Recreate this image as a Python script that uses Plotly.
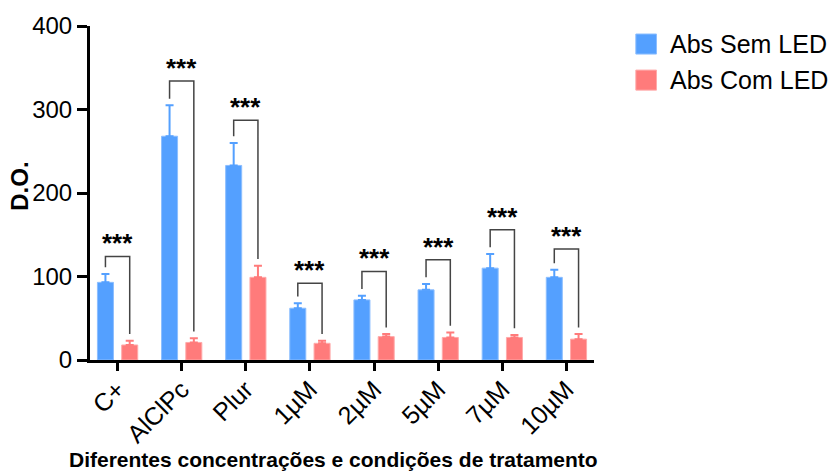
import plotly.graph_objects as go

# Treatment groups and absorbance readings (mean and upper SD)
categories = ["C+", "AlClPc", "Plur", "1µM", "2µM", "5µM", "7µM", "10µM"]
series_names = ["Abs Sem LED", "Abs Com LED"]
sem_led = [93, 268, 233, 62, 72, 84, 110, 99]
sem_led_err = [10, 37, 27, 6, 5, 7, 17, 9]
com_led = [18, 21, 99, 20, 28, 27, 27, 25]
com_led_err = [5, 5, 14, 3, 3, 6, 3, 6]

# Significance brackets: height of the horizontal bar and label for each group
bracket_top = [124, 334, 287, 92, 106, 120, 156, 133]
bracket_label = ["***"] * len(categories)

BLUE = "rgb(84,160,255)"
BLUE_EDGE = "rgb(140,190,255)"
RED = "rgb(255,123,123)"
RED_EDGE = "rgb(255,170,170)"
FONT = "Arial, Liberation Sans, sans-serif"

BARGAP = 0.243
BARGROUPGAP = 0.34

fig = go.Figure()
fig.add_trace(go.Bar(
    x=categories, y=sem_led, name=series_names[0],
    marker=dict(color=BLUE, line=dict(color=BLUE_EDGE, width=1)),
    error_y=dict(type="data", array=sem_led_err, arrayminus=[0] * len(sem_led),
                 symmetric=False, color=BLUE, thickness=2, width=4),
    showlegend=False,
))
fig.add_trace(go.Bar(
    x=categories, y=com_led, name=series_names[1],
    marker=dict(color=RED, line=dict(color=RED_EDGE, width=1)),
    error_y=dict(type="data", array=com_led_err, arrayminus=[0] * len(com_led),
                 symmetric=False, color=RED, thickness=2, width=4),
    showlegend=False,
))

# Bracket legs sit over the centres of the paired bars
half_slot = (1 - BARGAP) / 4
shapes = []
annotations = []
for i in range(len(categories)):
    x0 = i - half_slot
    x1 = i + half_slot
    top = bracket_top[i]
    left_end = sem_led[i] + sem_led_err[i] + 8
    right_end = com_led[i] + com_led_err[i] + 8
    shapes.append(dict(
        type="path", xref="x", yref="y",
        path=f"M {x0},{left_end} L {x0},{top} L {x1},{top} L {x1},{right_end}",
        line=dict(color="#444444", width=1.5),
    ))
    annotations.append(dict(
        x=i, y=top, xref="x", yref="y", text=f"<b>{bracket_label[i]}</b>",
        showarrow=False, yanchor="bottom", yshift=-4,
        font=dict(family=FONT, size=26, color="black"),
    ))

# Legend drawn as square swatches with labels to the right of the plot
legend_colors = [(BLUE, BLUE_EDGE), (RED, RED_EDGE)]
for k, name in enumerate(series_names):
    ytop = 0.976 - k * 0.108
    shapes.append(dict(
        type="rect", xref="paper", yref="paper",
        x0=1.083, x1=1.124, y0=ytop - 0.060, y1=ytop,
        fillcolor=legend_colors[k][0], line=dict(color=legend_colors[k][1], width=1),
    ))
    annotations.append(dict(
        x=1.147, y=ytop - 0.030, xref="paper", yref="paper", text=name,
        showarrow=False, xanchor="left", yanchor="middle",
        font=dict(family=FONT, size=25, color="black"),
    ))

# Axis titles
annotations.append(dict(
    x=-0.14, y=0.52, xref="paper", yref="paper", text="<b>D.O.</b>",
    showarrow=False, textangle=-90, xanchor="center", yanchor="middle",
    font=dict(family=FONT, size=24, color="black"),
))
annotations.append(dict(
    x=0.483, y=-0.297, xref="paper", yref="paper",
    text="<b>Diferentes concentrações e condições de tratamento</b>",
    showarrow=False, xanchor="center", yanchor="middle",
    font=dict(family=FONT, size=21, color="black"),
))

fig.update_layout(
    width=831, height=472,
    margin=dict(l=90, r=237, t=24, b=112),
    paper_bgcolor="white", plot_bgcolor="white",
    barmode="group", bargap=BARGAP, bargroupgap=BARGROUPGAP,
    font=dict(family=FONT, color="black"),
    shapes=shapes, annotations=annotations,
    showlegend=False,
)
fig.update_xaxes(
    type="category", range=[-0.43, 7.43],
    showline=True, linewidth=3, linecolor="black",
    ticks="outside", ticklen=8, tickwidth=3, tickcolor="black",
    tickangle=-45, tickfont=dict(family=FONT, size=25, color="black"),
    ticklabelstandoff=-6,
    showgrid=False, zeroline=False,
)
fig.update_yaxes(
    range=[0, 400], tickvals=[0, 100, 200, 300, 400],
    showline=True, linewidth=3, linecolor="black",
    ticks="outside", ticklen=10, tickwidth=3, tickcolor="black",
    tickfont=dict(family=FONT, size=24, color="black"),
    showgrid=False, zeroline=False,
)

fig.write_html("out.html")
